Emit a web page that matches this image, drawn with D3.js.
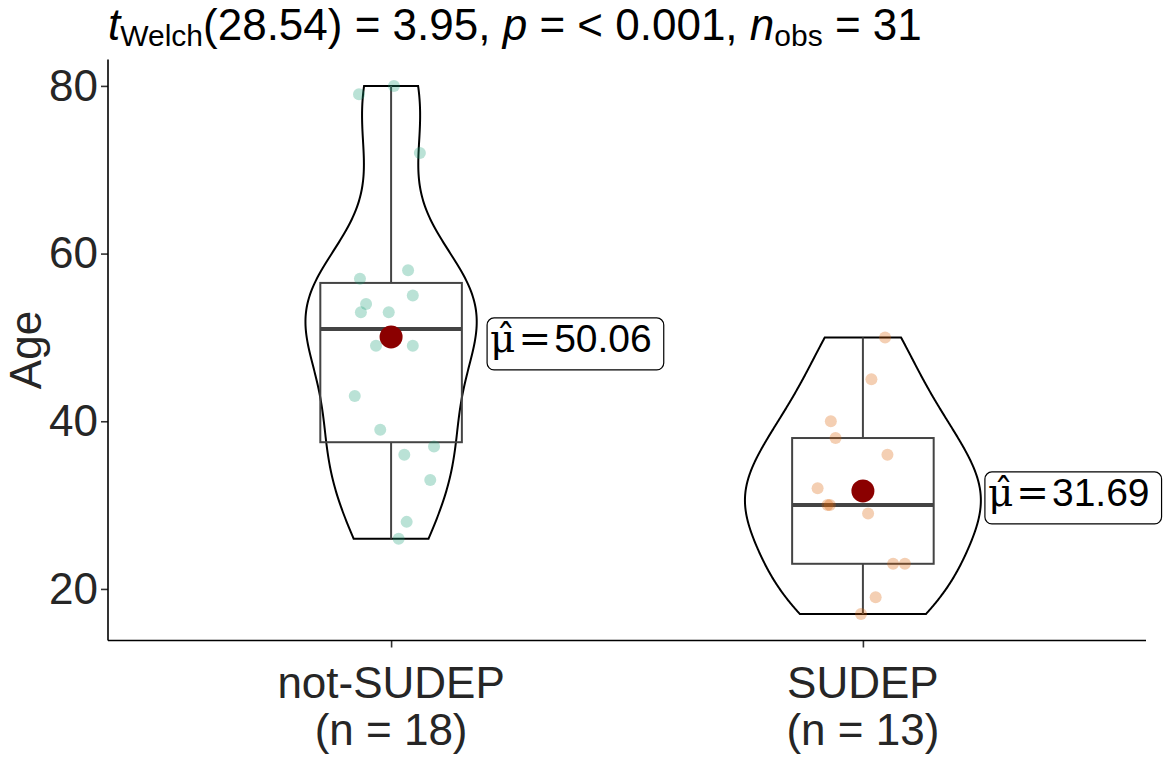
<!DOCTYPE html>
<html>
<head>
<meta charset="utf-8">
<script src="https://cdn.jsdelivr.net/npm/d3@7"></script>
<style>
  body { margin: 0; background: #fff; }
  text { font-family: "Liberation Sans", Arial, sans-serif; }
</style>
</head>
<body>
<div id="chart"></div>
<script>
var groups = ['not-SUDEP', 'SUDEP'];
var groupN = [18, 13];
var ageNotSudep = [79, 80, 72, 58, 57, 55, 54, 53, 53, 49, 49, 43, 39, 37, 36, 33, 28, 26];
var ageSudep = [50, 45, 40, 38, 36, 32, 30, 30, 29, 23, 23, 19, 17];
// horizontal jitter of each point, in fractions of a category step
var jitterNotSudep = [-0.068, 0.006, 0.061, 0.036, -0.066, 0.046, -0.053, -0.064, -0.005, -0.032, 0.046, -0.077, -0.023, 0.091, 0.028, 0.083, 0.033, 0.016];
var jitterSudep = [0.047, 0.018, -0.068, -0.058, 0.052, -0.096, -0.075, -0.07, 0.011, 0.064, 0.089, 0.027, -0.004];
var groupColors = ['#1B9E77', '#D95F02'];
var yTicks = [20, 40, 60, 80];

var W = 1169, H = 763;
var margin = {left: 108, right: 23, top: 59.5, bottom: 122.5};

var svg = d3.select('#chart')
  .append('svg')
  .attr('width', W)
  .attr('height', H);

var ages = [ageNotSudep, ageSudep];
var jit = [jitterNotSudep, jitterSudep];
var allAges = ageNotSudep.concat(ageSudep);
var lo = d3.min(allAges), hi = d3.max(allAges), pad = (hi - lo) * 0.05;

var x = d3.scalePoint()
  .domain(groups)
  .range([margin.left, W - margin.right])
  .padding(0.6);
var step = x.step();

var y = d3.scaleLinear()
  .domain([lo - pad, hi + pad])
  .range([H - margin.bottom, margin.top]);

// kernel density like R's density(bw = "nrd0"), trimmed to data range
function kde(vals) {
  var s = vals.slice().sort(d3.ascending);
  var sd = d3.deviation(s);
  var iqr = d3.quantile(s, 0.75) - d3.quantile(s, 0.25);
  var bw = 0.9 * Math.min(sd, iqr / 1.34) * Math.pow(s.length, -0.2);
  var mn = s[0], mx = s[s.length - 1];
  var out = [];
  for (var i = 0; i <= 200; i++) {
    var v = mn + (mx - mn) * i / 200;
    var dsum = 0;
    s.forEach(function(xi) {
      var u = (v - xi) / bw;
      dsum += Math.exp(-0.5 * u * u);
    });
    out.push([v, dsum / (s.length * bw * Math.sqrt(2 * Math.PI))]);
  }
  return out;
}

var dens = ages.map(kde);
var maxDens = d3.max(dens, function(d) { return d3.max(d, function(p) { return p[1]; }); });
var vw = d3.scaleLinear().domain([0, maxDens]).range([0, step * 0.25]);

// violins
dens.forEach(function(d, i) {
  var cx = x(groups[i]);
  var pts = d.map(function(p) { return [cx + vw(p[1]), y(p[0])]; });
  var left = d.slice().reverse().map(function(p) { return [cx - vw(p[1]), y(p[0])]; });
  svg.append('path')
    .attr('d', d3.line()(pts.concat(left)) + 'Z')
    .style('fill', 'none')
    .style('stroke', '#000')
    .style('stroke-width', 2);
});

// boxplots
ages.forEach(function(a, i) {
  var s = a.slice().sort(d3.ascending);
  var q1 = d3.quantile(s, 0.25), q2 = d3.quantile(s, 0.5), q3 = d3.quantile(s, 0.75);
  var iqr = q3 - q1;
  var wLo = d3.min(s.filter(function(v) { return v >= q1 - 1.5 * iqr; }));
  var wHi = d3.max(s.filter(function(v) { return v <= q3 + 1.5 * iqr; }));
  var cx = x(groups[i]), bw = step * 0.3;
  var g = svg.append('g').style('stroke', '#444').style('fill', 'none');
  g.append('line').attr('x1', cx).attr('x2', cx).attr('y1', y(q3)).attr('y2', y(wHi)).style('stroke-width', 2);
  g.append('line').attr('x1', cx).attr('x2', cx).attr('y1', y(q1)).attr('y2', y(wLo)).style('stroke-width', 2);
  g.append('rect')
    .attr('x', cx - bw / 2).attr('width', bw)
    .attr('y', y(q3)).attr('height', y(q1) - y(q3))
    .style('stroke-width', 2);
  g.append('line').attr('x1', cx - bw / 2).attr('x2', cx + bw / 2)
    .attr('y1', y(q2)).attr('y2', y(q2)).style('stroke-width', 4);
});

// jittered points
ages.forEach(function(a, i) {
  svg.append('g').selectAll('circle')
    .data(a)
    .enter().append('circle')
    .attr('cx', function(d, j) { return x(groups[i]) + jit[i][j] * step; })
    .attr('cy', function(d) { return y(d); })
    .attr('r', 6)
    .style('fill', groupColors[i])
    .style('fill-opacity', 0.3);
});

// means + labels
var labelOffset = [96, 122];
ages.forEach(function(a, i) {
  var m = d3.mean(a);
  var cx = x(groups[i]);
  svg.append('circle')
    .attr('cx', cx).attr('cy', y(m)).attr('r', 11.5)
    .style('fill', '#8B0000');

  var ly = y(m) + 7;
  var lg = svg.append('g');
  var box = lg.append('rect')
    .attr('rx', 7).attr('ry', 7)
    .style('fill', '#fff')
    .style('stroke', '#000')
    .style('stroke-width', 1.2);
  var t = lg.append('text')
    .attr('x', 3)
    .attr('y', 8)
    .attr('font-size', 39)
    .style('fill', '#000');
  t.append('tspan').style('font-family', '"DejaVu Serif", serif').text('\u03BC\u0302');
  t.append('tspan').attr('dx', 3).style('font-family', '"DejaVu Serif", serif').text('=');
  t.append('tspan').attr('dx', 3).text(d3.format('.2f')(m));
  var bb = t.node().getBBox();
  var bwid = bb.width + 15;
  var lx = Math.min(cx + labelOffset[i], W - 4 - bwid);
  lg.attr('transform', 'translate(' + lx + ',' + ly + ')');
  box.attr('x', 0).attr('y', -26).attr('width', bwid).attr('height', 52);
});

// axes
var yAxis = svg.append('g')
  .attr('transform', 'translate(' + margin.left + ',0)')
  .call(d3.axisLeft(y).tickValues(yTicks).tickSize(7).tickPadding(3));
var xAxis = svg.append('g')
  .attr('transform', 'translate(0,' + (H - margin.bottom) + ')')
  .call(d3.axisBottom(x).tickSize(7).tickFormat(''));

[yAxis, xAxis].forEach(function(ax) {
  ax.select('.domain').remove();
  ax.selectAll('.tick line').style('stroke', '#333').style('stroke-width', 1.6);
});
svg.append('line')
  .attr('x1', margin.left).attr('x2', margin.left)
  .attr('y1', margin.top).attr('y2', H - margin.bottom)
  .style('stroke', '#000').style('stroke-width', 1.6);
svg.append('line')
  .attr('x1', margin.left).attr('x2', W - margin.right)
  .attr('y1', H - margin.bottom).attr('y2', H - margin.bottom)
  .style('stroke', '#000').style('stroke-width', 1.6);

yAxis.selectAll('.tick text')
  .attr('font-size', 44)
  .style('font-family', '"Liberation Sans", Arial, sans-serif')
  .style('fill', '#262626');

// x category labels, two lines
groups.forEach(function(gname, i) {
  var t = svg.append('text')
    .attr('x', x(gname))
    .attr('y', 698)
    .attr('text-anchor', 'middle')
    .attr('font-size', 44)
    .style('fill', '#262626');
  t.append('tspan').attr('x', x(gname)).text(gname);
  t.append('tspan').attr('x', x(gname)).attr('dy', 47).text('(n = ' + groupN[i] + ')');
});

// y title
svg.append('text')
  .attr('transform', 'translate(41,' + ((margin.top + H - margin.bottom) / 2) + ') rotate(-90)')
  .attr('text-anchor', 'middle')
  .attr('font-size', 44)
  .style('fill', '#262626')
  .text('Age');

// subtitle with test result
var st = svg.append('text')
  .attr('x', 108)
  .attr('y', 40)
  .attr('font-size', 44)
  .style('fill', '#000');
st.append('tspan').style('font-style', 'italic').text('t');
st.append('tspan').attr('font-size', 30).attr('dy', 6).text('Welch');
st.append('tspan').attr('dy', -6).text('(28.54) = 3.95, ');
st.append('tspan').style('font-style', 'italic').text('p');
st.append('tspan').text(' = < 0.001, ');
st.append('tspan').style('font-style', 'italic').text('n');
st.append('tspan').attr('font-size', 30).attr('dy', 6).text('obs');
st.append('tspan').attr('dy', -6).text(' = 31');
</script>
</body>
</html>
